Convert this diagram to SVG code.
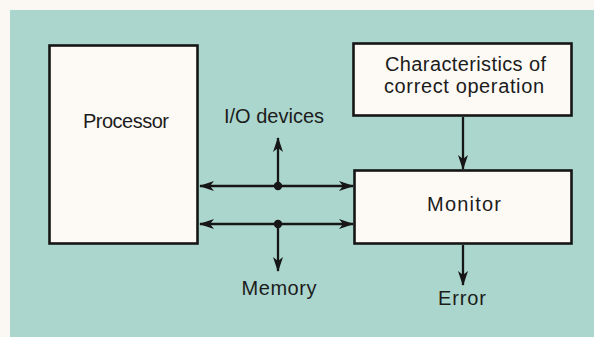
<svg xmlns="http://www.w3.org/2000/svg" width="594" height="337" viewBox="0 0 594 337">
<style>
.box{fill:#fdfaf5;stroke:#161616;stroke-width:2.6}
.lbl{font-family:"Liberation Sans",Arial,sans-serif;font-size:20px;fill:#1c1c1c}
.ln{stroke:#161616;stroke-width:2.3;fill:none}
.dot{fill:#161616}
</style>
<defs>
<marker id="ah" viewBox="0 0 15 10" refX="14" refY="5" markerWidth="15" markerHeight="10" markerUnits="userSpaceOnUse" orient="auto-start-reverse">
<path d="M0,0 L15,5 L0,10 L4,5 z" fill="#161616"/>
</marker>
</defs>
<rect x="0" y="0" width="594" height="337" fill="#fbf8f3"/>
<rect x="10" y="10" width="584" height="327" fill="#abd6cd"/>
<g id="processor">
<rect class="box" x="49.5" y="45.5" width="148" height="198"/>
<text class="lbl" x="83" y="128" textLength="86" lengthAdjust="spacing">Processor</text>
</g>
<g id="characteristics">
<rect class="box" x="353.5" y="43.5" width="218" height="72"/>
<text class="lbl" x="385" y="71" textLength="161" lengthAdjust="spacing">Characteristics of</text>
<text class="lbl" x="384" y="93" textLength="160" lengthAdjust="spacing">correct operation</text>
</g>
<g id="monitor">
<rect class="box" x="354.5" y="170.5" width="217" height="73"/>
<text class="lbl" x="427" y="211" textLength="74" lengthAdjust="spacing">Monitor</text>
</g>
<g id="io-devices">
<text class="lbl" x="224" y="123" textLength="100" lengthAdjust="spacing">I/O devices</text>
</g>
<g id="memory">
<text class="lbl" x="241.5" y="294.5" textLength="75" lengthAdjust="spacing">Memory</text>
</g>
<g id="error">
<text class="lbl" x="438" y="304.5" textLength="48" lengthAdjust="spacing">Error</text>
</g>
<g id="connectors">
<line class="ln" x1="200" y1="186" x2="353" y2="186" marker-start="url(#ah)" marker-end="url(#ah)"/>
<line class="ln" x1="200" y1="224" x2="353" y2="224" marker-start="url(#ah)" marker-end="url(#ah)"/>
<line class="ln" x1="278" y1="186" x2="278" y2="138" marker-end="url(#ah)"/>
<line class="ln" x1="278" y1="224" x2="278" y2="271" marker-end="url(#ah)"/>
<circle class="dot" cx="278" cy="186" r="4.2"/>
<circle class="dot" cx="278" cy="224" r="4.2"/>
<line class="ln" x1="463" y1="117" x2="463" y2="169" marker-end="url(#ah)"/>
<line class="ln" x1="463" y1="245" x2="463" y2="285" marker-end="url(#ah)"/>
</g>
</svg>
